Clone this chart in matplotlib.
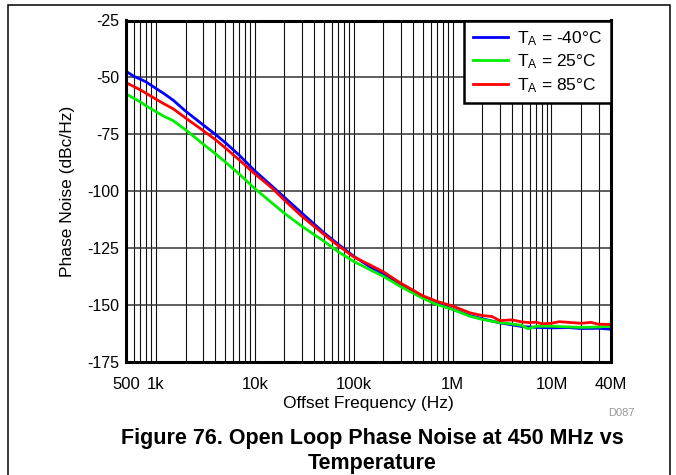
import numpy as np
import matplotlib
matplotlib.use('Agg')
import matplotlib.pyplot as plt
from matplotlib.patches import Rectangle

plt.rcParams['font.family'] = ['Liberation Sans', 'DejaVu Sans']
plt.rcParams['mathtext.default'] = 'regular'
plt.rcParams['axes.unicode_minus'] = False

# offset frequency (Hz) and phase noise (dBc/Hz)
freq_m40 = [500, 600, 700, 800, 1e3, 1.2e3, 1.5e3, 2e3, 3e3, 4e3, 5e3, 7e3, 1e4,
            1.5e4, 2e4, 3e4, 5e4, 7e4, 1e5, 1.5e5, 2e5, 3e5, 5e5, 7e5, 1e6,
            1.5e6, 2e6, 3e6, 5e6, 7e6, 1e7, 1.5e7, 2e7, 3e7, 4e7]
pn_m40 = [-47.3, -49.5, -50.8, -52.0, -54.8, -57.0, -60.0, -64.8, -70.8, -75.0,
          -78.5, -84.2, -91.0, -97.8, -102.7, -109.6, -118.2, -123.3, -128.5,
          -133.5, -136.3, -141.2, -146.3, -149.2, -151.8, -154.6, -156.0,
          -157.8, -159.4, -159.8, -160.0, -159.9, -160.3, -160.2, -160.6]

freq_25 = [500, 600, 700, 800, 1e3, 1.2e3, 1.5e3, 2e3, 3e3, 4e3, 5e3, 7e3, 1e4,
           1.5e4, 2e4, 3e4, 5e4, 7e4, 1e5, 1.5e5, 2e5, 3e5, 5e5, 7e5, 1e6,
           1.5e6, 2e6, 3e6, 4e6, 5e6, 5.8e6, 7e6, 1e7, 1.5e7, 2e7, 3e7, 4e7]
pn_25 = [-57.2, -59.2, -60.8, -62.5, -65.0, -67.0, -69.0, -73.0, -79.2, -83.5,
         -87.0, -92.5, -98.8, -105.2, -109.7, -115.4, -121.9, -126.6, -130.8,
         -134.7, -137.4, -141.9, -147.0, -149.8, -151.9, -154.9, -156.3,
         -157.7, -158.3, -158.9, -160.4, -159.3, -159.3, -159.6, -159.8,
         -159.6, -159.3]

freq_85 = [500, 600, 700, 800, 1e3, 1.2e3, 1.5e3, 2e3, 3e3, 4e3, 5e3, 7e3, 1e4,
           1.5e4, 2e4, 3e4, 5e4, 7e4, 1e5, 1.5e5, 2e5, 3e5, 5e5, 7e5, 1e6,
           1.5e6, 2e6, 2.5e6, 3e6, 4e6, 5e6, 6e6, 7e6, 8e6, 1e7, 1.2e7, 1.5e7,
           2e7, 2.5e7, 3e7, 4e7]
pn_85 = [-52.3, -54.0, -55.5, -57.0, -59.5, -61.5, -63.8, -67.8, -73.3, -77.3,
         -80.8, -86.3, -92.3, -98.6, -103.9, -111.0, -118.9, -123.9, -128.8,
         -132.6, -135.4, -140.4, -145.9, -148.4, -150.4, -153.4, -154.6,
         -155.0, -156.8, -156.5, -157.4, -157.7, -157.5, -158.2, -158.0,
         -157.3, -157.6, -158.0, -157.6, -158.4, -158.5]

xtick_pos = [500, 1e3, 1e4, 1e5, 1e6, 1e7, 4e7]
xtick_lab = ['500', '1k', '10k', '100k', '1M', '10M', '40M']
ytick_pos = [-175, -150, -125, -100, -75, -50, -25]

fig = plt.figure(figsize=(6.76, 4.75), dpi=100)
ax = fig.add_axes([126/676, 1-362/475, 485/676, (362-20.5)/475])

ax.plot(freq_m40, pn_m40, color='#0000ff', lw=2.0, label=r'T$_A$ = -40°C')
ax.plot(freq_25, pn_25, color='#00ee00', lw=2.0, label=r'T$_A$ = 25°C')
ax.plot(freq_85, pn_85, color='#ff0000', lw=2.0, label=r'T$_A$ = 85°C')

ax.set_xscale('log')
ax.set_xlim(500, 4e7)
ax.set_ylim(-175, -25)
ax.set_xticks(xtick_pos)
ax.set_xticklabels(xtick_lab)
minor = [m * 10**e for e in range(2, 8) for m in range(1, 10)]
minor = [v for v in minor if 500 < v < 4e7 and v not in xtick_pos]
ax.set_xticks(minor, minor=True)
ax.set_xticklabels([], minor=True)
ax.set_yticks(ytick_pos)
ax.tick_params(which='both', length=0)
ax.tick_params(axis='x', labelsize=12, pad=11)
ax.tick_params(axis='y', labelsize=11.5, pad=5)
ax.grid(which='both', axis='x', color='#111111', lw=0.8)
ax.grid(which='major', axis='y', color='#333333', lw=1.1)
for s in ax.spines.values():
    s.set_linewidth(2.2)
ax.set_xlabel('Offset Frequency (Hz)', fontsize=12.5, labelpad=3)
ax.set_ylabel('Phase Noise (dBc/Hz)', fontsize=12.5, labelpad=9)

leg = ax.legend(loc='upper right', fontsize=12.5, frameon=True, fancybox=False,
                borderaxespad=0, handlelength=2.0, handletextpad=0.55,
                labelspacing=0.27, borderpad=0.5)
leg.get_frame().set_edgecolor('black')
leg.get_frame().set_linewidth(1.8)
leg.get_frame().set_alpha(1)

fig.text(621/676, 1-413/475, 'D087', fontsize=8, color='#999999',
         ha='center', va='center')
fig.text(372/676, 1-451/475, 'Figure 76. Open Loop Phase Noise at 450 MHz vs\nTemperature',
         fontsize=15.5, fontweight='bold', ha='center', va='center', linespacing=1.2)

fig.patches.append(Rectangle((8/676, -0.1), 662/676, 1.1-5/475, transform=fig.transFigure,
                             fill=False, edgecolor='black', lw=1.1))

fig.savefig('out.png', dpi=100)
